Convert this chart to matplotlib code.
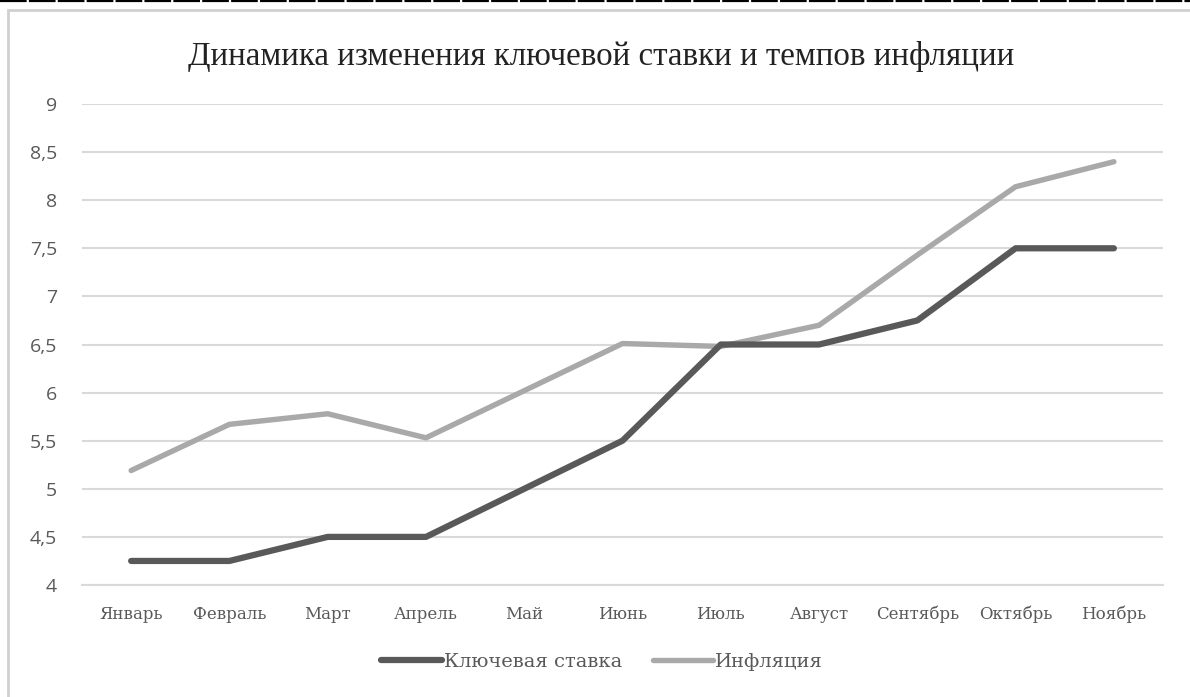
import matplotlib
matplotlib.use("Agg")
import matplotlib.pyplot as plt
from matplotlib.lines import Line2D
from matplotlib.patches import Rectangle

months = ["Январь", "Февраль", "Март", "Апрель", "Май", "Июнь",
          "Июль", "Август", "Сентябрь", "Октябрь", "Ноябрь"]
key_rate = [4.25, 4.25, 4.5, 4.5, 5.0, 5.5, 6.5, 6.5, 6.75, 7.5, 7.5]
inflation = [5.19, 5.67, 5.78, 5.53, 6.02, 6.51, 6.48, 6.70, 7.43, 8.14, 8.40]
y_ticks = [4, 4.5, 5, 5.5, 6, 6.5, 7, 7.5, 8, 8.5, 9]
y_labels = ["4", "4,5", "5", "5,5", "6", "6,5", "7", "7,5", "8", "8,5", "9"]
title = "Динамика изменения ключевой ставки и темпов инфляции"

W, H = 1190, 697
fig = plt.figure(figsize=(W / 100, H / 100), dpi=100)
fig.patch.set_facecolor("white")

# outer chart frame
fig.add_artist(Rectangle((8 / W, -0.05), 1.05, 1 - 10 / H + 0.05,
                         transform=fig.transFigure, fill=False,
                         edgecolor="#d0d0d0", linewidth=2.0))
# dashed rule along the top edge
fig.add_artist(Line2D([0, 1], [1 - 1 / H, 1 - 1 / H], transform=fig.transFigure,
                      color="black", linewidth=1.6, linestyle=(0, (12, 1))))

left, right = 82 / W, 1163 / W
bottom, top = 1 - 585 / H, 1 - 104 / H
ax = fig.add_axes([left, bottom, right - left, top - bottom])

x = list(range(len(months)))
ax.plot(x, key_rate, color="#595959", linewidth=4.5, solid_capstyle="round",
        solid_joinstyle="round", label="Ключевая ставка", zorder=3)
ax.plot(x, inflation, color="#a9a9a9", linewidth=3.9, solid_capstyle="round",
        solid_joinstyle="round", label="Инфляция", zorder=2)

ax.set_xlim(-0.5, len(months) - 0.5)
ax.set_ylim(4, 9)
ax.set_yticks(y_ticks)
ax.set_yticklabels(y_labels, fontfamily="Open Sans", fontsize=14, color="#595959")
ax.set_xticks(x)
ax.set_xticklabels(months, fontfamily="DejaVu Serif", fontsize=12, color="#595959")
ax.tick_params(axis="both", length=0)
ax.tick_params(axis="y", pad=18)
ax.tick_params(axis="x", pad=15)
ax.grid(axis="y", color="#d9d9d9", linewidth=1.5)
ax.set_axisbelow(True)
for side in ["top", "right", "left"]:
    ax.spines[side].set_visible(False)
ax.spines["bottom"].set_color("#d9d9d9")
ax.spines["bottom"].set_linewidth(1.5)

fig.text(0.505, 1 - 57 / H, title, ha="center", va="center",
         fontfamily="Liberation Serif", fontsize=23.8, color="#222222")

leg = fig.legend(loc="center", bbox_to_anchor=(0.506, 1 - 662 / H), ncol=2,
                 frameon=False, handlelength=3.1, handletextpad=0.1,
                 columnspacing=1.6,
                 prop={"family": "DejaVu Serif", "size": 14})
for t in leg.get_texts():
    t.set_color("#595959")

fig.savefig("out.png", dpi=100)
